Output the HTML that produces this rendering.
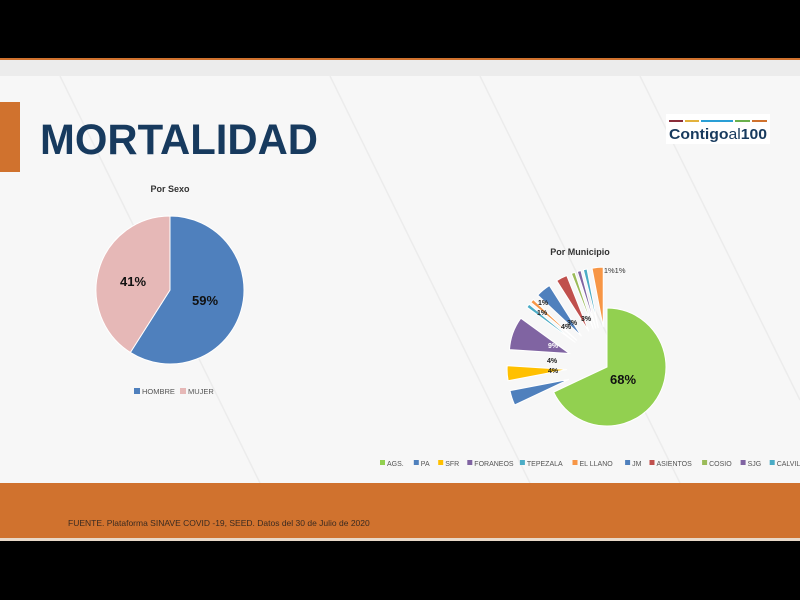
<!DOCTYPE html>
<html><head><meta charset="utf-8"><style>
body{margin:0;width:800px;height:600px;background:#000;overflow:hidden;font-family:"Liberation Sans",sans-serif}
</style></head><body>
<svg width="800" height="600" xmlns="http://www.w3.org/2000/svg" style="position:absolute;left:0;top:0">
<rect x="0" y="0" width="800" height="600" fill="#000"/>
<rect x="0" y="58" width="800" height="2" fill="#d0722e"/>
<rect x="0" y="60" width="800" height="16" fill="#ececec"/>
<rect x="0" y="76" width="800" height="407" fill="#f7f7f7"/>
<g stroke="#ececec" stroke-width="1.5" fill="none">
<line x1="60" y1="76" x2="260" y2="483"/><line x1="330" y1="76" x2="530" y2="483"/><line x1="480" y1="76" x2="680" y2="483"/><line x1="640" y1="76" x2="800" y2="400"/>
</g>
<rect x="0" y="483" width="800" height="55" fill="#d0722e"/>
<rect x="0" y="538" width="800" height="3" fill="#e8d8c8"/>
<rect x="0" y="102" width="20" height="70" fill="#d0722e"/>
<text x="40" y="154" font-size="43" font-weight="bold" fill="#173a5e" textLength="278" lengthAdjust="spacingAndGlyphs">MORTALIDAD</text>
<rect x="666" y="114" width="104" height="30" fill="#fff"/>
<rect x="669" y="120" width="14" height="2" fill="#8b2d3a"/><rect x="685" y="120" width="14" height="2" fill="#e3b23c"/><rect x="701" y="120" width="32" height="2" fill="#2a9fd6"/><rect x="735" y="120" width="15" height="2" fill="#6ab04c"/><rect x="752" y="120" width="15" height="2" fill="#d0722e"/>
<text x="669" y="139" font-size="15" font-weight="bold" fill="#173a5e" textLength="98" lengthAdjust="spacingAndGlyphs">Contigo<tspan font-weight="normal">al</tspan>100</text>
<text x="170" y="192" font-size="9" font-weight="bold" fill="#333" text-anchor="middle">Por Sexo</text>
<g id="p1"></g>
<text x="133" y="286" font-size="13" font-weight="bold" fill="#111" text-anchor="middle">41%</text>
<text x="205" y="305" font-size="13" font-weight="bold" fill="#111" text-anchor="middle">59%</text>
<rect x="134" y="388" width="6" height="6" fill="#4f80bd"/><text x="142" y="394" font-size="7.5" fill="#555">HOMBRE</text>
<rect x="180" y="388" width="6" height="6" fill="#e6b8b7"/><text x="188" y="394" font-size="7.5" fill="#555">MUJER</text>
<text x="580" y="255" font-size="9" font-weight="bold" fill="#333" text-anchor="middle">Por Municipio</text>
<text x="593" y="273" font-size="7.5" fill="#333">1%1%1%</text>
<g id="p2"></g>
<text x="623" y="384" font-size="13" font-weight="bold" fill="#111" text-anchor="middle">68%</text>
<g font-size="7" font-weight="bold" fill="#222" text-anchor="middle">
<text x="553" y="348" fill="#fff">9%</text>
<text x="552" y="363">4%</text>
<text x="553" y="373">4%</text>
<text x="543" y="305">1%</text>
<text x="542" y="315">1%</text>
<text x="566" y="329">4%</text>
<text x="572" y="325">3%</text>
<text x="586" y="321">3%</text>
</g>
<g id="leg"></g>
<text x="68" y="526" font-size="8.5" fill="#3a2a20">FUENTE. Plataforma SINAVE COVID -19, SEED. Datos del 30 de Julio de 2020</text>
</svg>
<script>
var NS="http://www.w3.org/2000/svg";
function arc(g,cx,cy,r,a0,a1,col){var p=document.createElementNS(NS,"path");
function pt(a){return [cx+r*Math.sin(a*Math.PI/180),cy-r*Math.cos(a*Math.PI/180)];}
var s=pt(a0),e=pt(a1);p.setAttribute("d","M"+cx+","+cy+"L"+s+"A"+r+","+r+" 0 "+((a1-a0)>180?1:0)+" 1 "+e+"Z");p.setAttribute("fill",col);p.setAttribute("stroke","#fff");p.setAttribute("stroke-width","1");g.appendChild(p);}
var g1=document.getElementById("p1");
arc(g1,170,290,74,0,212.4,"#4f80bd");arc(g1,170,290,74,212.4,360,"#e6b8b7");
var g2=document.getElementById("p2");
var d=[[68,"#92d050","AGS."],[4,"#4f80bd","PA"],[4,"#ffc000","SFR"],[9,"#8064a2","FORANEOS"],[1,"#4bacc6","TEPEZALA"],[1,"#f79646","EL LLANO"],[4,"#4f80bd","JM"],[3,"#c0504d","ASIENTOS"],[1,"#9bbb59","COSIO"],[1,"#8064a2","SJG"],[1,"#4bacc6","CALVILLO"],[3,"#f79646","RINCON"]];
var a=0,cx=607,cy=367;
d.forEach(function(x,i){var s=x[0]*3.6,m=(a+s/2)*Math.PI/180,o=i==0?0:40;
arc(g2,cx+o*Math.sin(m),cy-o*Math.cos(m),i==0?59:60,a,a+s,x[1]);a+=s;});
var L=document.getElementById("leg"),lx=380;
d.forEach(function(x){var r=document.createElementNS(NS,"rect");r.setAttribute("x",lx);r.setAttribute("y",460);r.setAttribute("width",5);r.setAttribute("height",5);r.setAttribute("fill",x[1]);L.appendChild(r);
var t=document.createElementNS(NS,"text");t.setAttribute("x",lx+7);t.setAttribute("y",466);t.setAttribute("font-size","7");t.setAttribute("fill","#555");t.textContent=x[2];L.appendChild(t);lx+=7+x[2].length*4.7+8;});
</script>
</body></html>
